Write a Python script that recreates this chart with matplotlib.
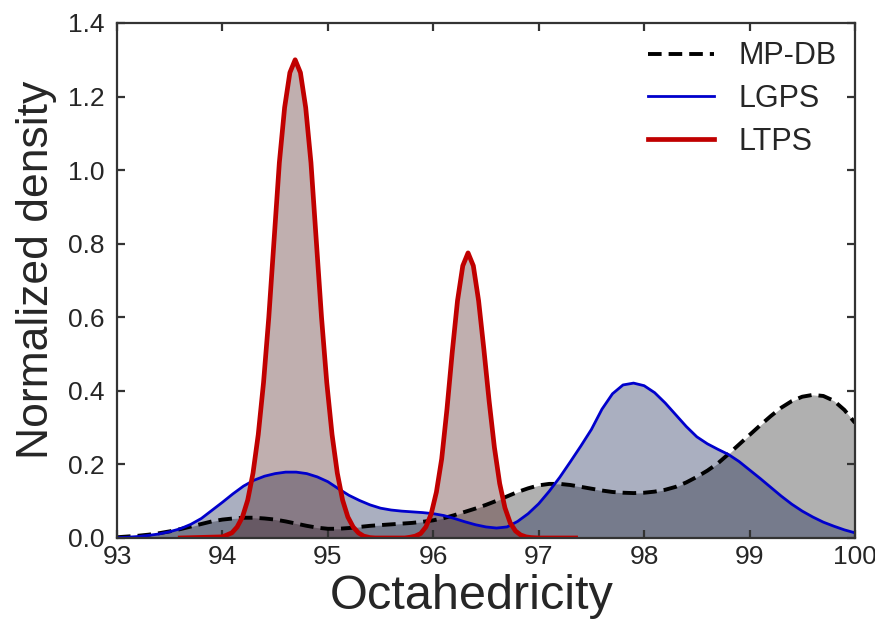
import matplotlib
matplotlib.use("Agg")
import matplotlib.pyplot as plt

plt.rcParams['font.family'] = ['Liberation Sans', 'DejaVu Sans']

# Density curves sampled every 0.1 in octahedricity
grid = [93.0, 93.1, 93.2, 93.3, 93.4, 93.5, 93.6, 93.7, 93.8, 93.9,
        94.0, 94.1, 94.2, 94.3, 94.4, 94.5, 94.6, 94.7, 94.8, 94.9,
        95.0, 95.1, 95.2, 95.3, 95.4, 95.5, 95.6, 95.7, 95.8, 95.9,
        96.0, 96.1, 96.2, 96.3, 96.4, 96.5, 96.6, 96.7, 96.8, 96.9,
        97.0, 97.1, 97.2, 97.3, 97.4, 97.5, 97.6, 97.7, 97.8, 97.9,
        98.0, 98.1, 98.2, 98.3, 98.4, 98.5, 98.6, 98.7, 98.8, 98.9,
        99.0, 99.1, 99.2, 99.3, 99.4, 99.5, 99.6, 99.7, 99.8, 99.9,
        100.0]

mpdb = [0.002, 0.004, 0.006, 0.009, 0.013, 0.018, 0.024, 0.031, 0.038, 0.045,
        0.050, 0.053, 0.055, 0.055, 0.053, 0.050, 0.045, 0.039, 0.033, 0.028,
        0.025, 0.025, 0.027, 0.030, 0.033, 0.035, 0.037, 0.039, 0.041, 0.044,
        0.048, 0.054, 0.062, 0.071, 0.080, 0.090, 0.101, 0.113, 0.125, 0.135,
        0.143, 0.147, 0.147, 0.144, 0.139, 0.134, 0.129, 0.125, 0.123, 0.122,
        0.123, 0.126, 0.131, 0.139, 0.151, 0.166, 0.183, 0.203, 0.228, 0.254,
        0.280, 0.306, 0.331, 0.354, 0.372, 0.384, 0.389, 0.386, 0.373, 0.348,
        0.313]

lgps = [0.001, 0.002, 0.004, 0.007, 0.011, 0.017, 0.025, 0.037, 0.053, 0.075,
        0.097, 0.120, 0.141, 0.157, 0.168, 0.175, 0.179, 0.179, 0.175, 0.166,
        0.153, 0.134, 0.116, 0.102, 0.090, 0.081, 0.076, 0.073, 0.071, 0.069,
        0.066, 0.061, 0.053, 0.044, 0.036, 0.030, 0.027, 0.030, 0.045, 0.066,
        0.093, 0.127, 0.165, 0.207, 0.250, 0.295, 0.350, 0.392, 0.416, 0.421,
        0.414, 0.395, 0.367, 0.335, 0.303, 0.275, 0.256, 0.241, 0.227, 0.208,
        0.185, 0.162, 0.138, 0.114, 0.092, 0.073, 0.057, 0.043, 0.032, 0.022,
        0.014]

# LTPS is sampled more finely around its two narrow peaks
ltps_x = [93.60, 94.00, 94.09, 94.14, 94.19, 94.24, 94.29, 94.34, 94.39, 94.44,
          94.49, 94.54, 94.59, 94.64, 94.69, 94.74, 94.79, 94.84, 94.89, 94.94,
          94.99, 95.04, 95.09, 95.14, 95.19, 95.24, 95.29, 95.34, 95.40, 95.45,
          95.73, 95.78, 95.83, 95.88, 95.93, 95.98, 96.03, 96.08, 96.13, 96.18,
          96.23, 96.28, 96.33, 96.38, 96.43, 96.48, 96.53, 96.58, 96.63, 96.68,
          96.73, 96.78, 96.83, 96.88, 96.93, 97.00, 97.35]
ltps_y = [0.000, 0.003, 0.014, 0.030, 0.057, 0.103, 0.176, 0.281, 0.422, 0.600,
          0.810, 1.020, 1.170, 1.265, 1.300, 1.265, 1.170, 1.020, 0.810, 0.600,
          0.422, 0.281, 0.176, 0.103, 0.057, 0.030, 0.014, 0.005, 0.001, 0.000,
          0.000, 0.002, 0.005, 0.012, 0.030, 0.065, 0.125, 0.215, 0.350, 0.505,
          0.645, 0.740, 0.775, 0.740, 0.645, 0.513, 0.372, 0.246, 0.148, 0.082,
          0.041, 0.019, 0.008, 0.003, 0.001, 0.000, 0.000]

series_labels = ['MP-DB', 'LGPS', 'LTPS']

x_ticks = [93, 94, 95, 96, 97, 98, 99, 100]
y_ticks = [0.0, 0.2, 0.4, 0.6, 0.8, 1.0, 1.2, 1.4]

text_color = '#262626'
spine_color = '#333333'

fig = plt.figure(figsize=(8.75, 6.21), dpi=100)
ax = fig.add_axes([0.1337, 0.1337, 0.8434, 0.8293])

# each series: shaded area first, then its outline
ax.fill_between(grid, 0, mpdb, color='black', alpha=0.31, lw=0)
ax.plot(grid, mpdb, color='black', lw=2.8, ls=(0, (3.5, 1.8)), label=series_labels[0])

ax.fill_between(grid, 0, lgps, color=(12/255, 26/255, 75/255), alpha=0.35, lw=0)
ax.plot(grid, lgps, color='#0000cc', lw=2.0, label=series_labels[1])

ax.fill_between(ltps_x, 0, ltps_y, color=(75/255, 26/255, 26/255), alpha=0.35, lw=0)
ax.plot(ltps_x, ltps_y, color='#c00000', lw=3.4, solid_joinstyle='round',
        label=series_labels[2])

ax.set_xlim(93, 100)
ax.set_ylim(0, 1.4)
ax.set_xticks(x_ticks)
ax.set_yticks(y_ticks)
ax.set_xticklabels([str(v) for v in x_ticks])
ax.set_yticklabels([f'{v:.1f}' for v in y_ticks])

ax.tick_params(direction='in', length=6, width=1.6, colors=spine_color,
               labelcolor=text_color, labelsize=19, top=True, right=True)
ax.tick_params(axis='x', pad=5)
ax.tick_params(axis='y', pad=9)
for sp in ax.spines.values():
    sp.set_color(spine_color)
    sp.set_linewidth(1.6)

ax.set_xlabel('Octahedricity', fontsize=35, color=text_color, labelpad=4)
ax.set_ylabel('Normalized density', fontsize=32, color=text_color, labelpad=8)
ax.xaxis.label.set_x(0.48)
ax.yaxis.label.set_y(0.52)

leg = ax.legend(loc='upper right', frameon=False, fontsize=22, handlelength=2.15,
                handletextpad=0.8, labelspacing=0.42, borderaxespad=0.2)
for t in leg.get_texts():
    t.set_color(text_color)

fig.savefig('out.png', dpi=100)
